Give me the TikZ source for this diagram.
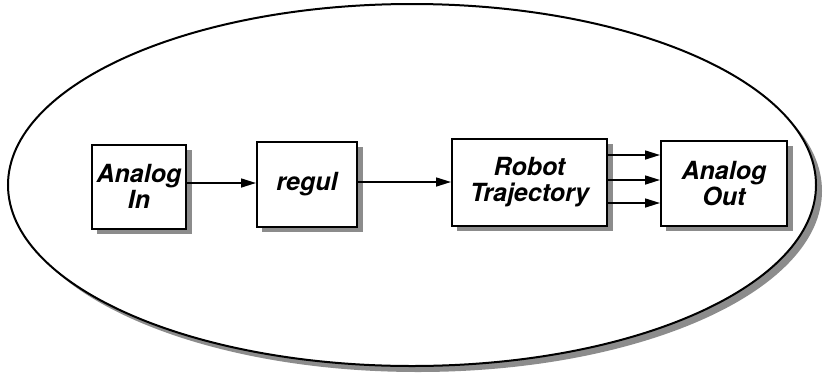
\documentclass[tikz,border=0pt]{standalone}
\usepackage{fontspec}
\setmainfont{TeX Gyre Heros}
\usetikzlibrary{arrows.meta}
\begin{document}
\begin{tikzpicture}[x=1pt,y=-1pt,
  shd/.style={fill=black!45},
  blk/.style={draw=black,line width=2pt,fill=white,align=center,
    font=\fontsize{25}{26}\selectfont\bfseries\itshape,inner sep=0pt},
  arr/.style={line width=1.6pt,-{Triangle[length=15pt,width=9pt]}}]
\useasboundingbox (0,0) rectangle (830,376);
% ellipse with shadow
\fill[shd] (418,191) ellipse [x radius=404, y radius=181];
\draw[line width=2pt,fill=white] (412,185) ellipse [x radius=404, y radius=181];
% block shadows
\fill[shd] (97,149.5) rectangle (192,233.5);
\fill[shd] (262,147) rectangle (363,232);
\fill[shd] (457,144) rectangle (613,231);
\fill[shd] (666,146) rectangle (793,231);
% blocks
\node[blk,minimum width=94pt,minimum height=84pt] (ain) at (139,186.5) {Analog\\In};
\node[blk,minimum width=100pt,minimum height=85pt] (reg) at (307,184.5) {regul};
\node[blk,minimum width=155pt,minimum height=87pt] (rt) at (529.5,182.5) {Robot\\Trajectory};
\node[blk,minimum width=126pt,minimum height=85pt] (aout) at (724,183.5) {Analog\\Out};
% connectors
\draw[arr] (ain.east |- 0,183) -- (reg.west |- 0,183);
\draw[arr] (reg.east |- 0,182) -- (rt.west |- 0,182);
\draw[arr] (rt.east |- 0,155) -- (aout.west |- 0,155);
\draw[arr] (rt.east |- 0,180) -- (aout.west |- 0,180);
\draw[arr] (rt.east |- 0,203) -- (aout.west |- 0,203);
\end{tikzpicture}
\end{document}
